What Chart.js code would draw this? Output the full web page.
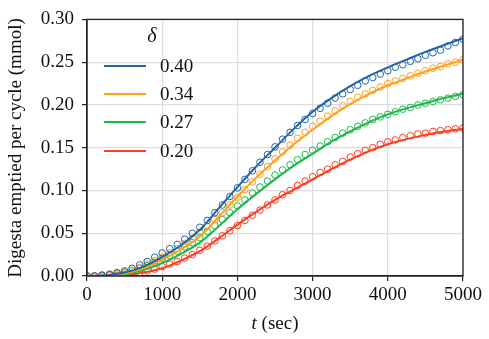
<!DOCTYPE html>
<html>
<head>
<meta charset="utf-8">
<script src="https://cdn.jsdelivr.net/npm/chart.js@4.4.0/dist/chart.umd.min.js"></script>
<style>
  html, body { margin: 0; padding: 0; background: #fff; }
  #wrap { width: 489px; height: 339px; }
</style>
</head>
<body>
<div id="wrap"><canvas id="c"></canvas></div>
<script>
// ---- data ----
const deltas  = ['0.40', '0.34', '0.27', '0.20'];
const colors  = ['#2265aa', '#ff9f1c', '#1cb84c', '#ff3d1f'];

// model curves (solid lines), every 250 s
const tLine = [0,250,500,750,1000,1250,1500,1750,2000,2250,2500,2750,3000,3250,3500,3750,4000,4250,4500,4750,5000];
const line040 = [0,0.001,0.004,0.011,0.022,0.036,0.054,0.079,0.104,0.128,0.150,0.172,0.192,0.208,0.222,0.234,0.244,0.253,0.262,0.270,0.278];
const line034 = [0,0.0005,0.003,0.009,0.019,0.031,0.046,0.069,0.093,0.115,0.135,0.154,0.171,0.187,0.201,0.213,0.223,0.231,0.239,0.246,0.253];
const line027 = [0,0.0004,0.002,0.007,0.015,0.026,0.039,0.058,0.078,0.096,0.113,0.129,0.143,0.157,0.169,0.180,0.189,0.196,0.202,0.208,0.213];
const line020 = [0,0.0002,0.001,0.004,0.009,0.018,0.029,0.044,0.060,0.075,0.089,0.101,0.113,0.125,0.136,0.146,0.154,0.160,0.165,0.169,0.172];

// measured points (open circles), every 100 s
const tPts = [0,100,200,300,400,500,600,700,800,900,1000,1100,1200,1300,1400,1500,1600,1700,1800,1900,
              2000,2100,2200,2300,2400,2500,2600,2700,2800,2900,3000,3100,3200,3300,3400,3500,3600,3700,3800,3900,
              4000,4100,4200,4300,4400,4500,4600,4700,4800,4900,5000];
const pts040 = [0,0,0.001,0.002,0.004,0.006,0.009,0.013,0.017,0.022,0.027,0.032,0.037,0.043,0.050,0.057,0.065,0.074,0.083,0.093,
                0.103,0.113,0.123,0.133,0.142,0.151,0.160,0.168,0.176,0.183,0.190,0.196,0.202,0.208,0.213,0.218,0.223,0.228,0.232,0.236,
                0.240,0.244,0.247,0.251,0.254,0.258,0.261,0.264,0.269,0.273,0.277];
const pts034 = [0,0,0.001,0.002,0.003,0.005,0.007,0.010,0.014,0.018,0.022,0.027,0.032,0.038,0.044,0.051,0.058,0.066,0.074,0.083,
                0.092,0.101,0.110,0.119,0.128,0.137,0.145,0.153,0.161,0.168,0.175,0.181,0.187,0.193,0.199,0.204,0.209,0.213,0.217,0.221,
                0.225,0.228,0.231,0.234,0.237,0.240,0.243,0.245,0.248,0.250,0.253];
const pts027 = [0,0,0.001,0.002,0.003,0.004,0.006,0.009,0.012,0.016,0.020,0.024,0.029,0.034,0.039,0.045,0.052,0.059,0.066,0.074,
                0.082,0.089,0.097,0.104,0.111,0.118,0.124,0.130,0.136,0.142,0.147,0.152,0.157,0.162,0.167,0.171,0.175,0.179,0.183,0.186,
                0.189,0.192,0.195,0.197,0.200,0.202,0.204,0.206,0.208,0.210,0.212];
const pts020 = [0,0,0,0.001,0.001,0.002,0.003,0.004,0.006,0.008,0.011,0.014,0.017,0.021,0.025,0.030,0.035,0.041,0.047,0.053,
                0.059,0.065,0.071,0.077,0.083,0.089,0.095,0.100,0.106,0.111,0.116,0.121,0.125,0.130,0.134,0.139,0.143,0.147,0.150,0.154,
                0.157,0.159,0.162,0.164,0.166,0.167,0.169,0.170,0.171,0.172,0.173];

const xTicks = [0,1000,2000,3000,4000,5000];
const yTicks = [0,0.05,0.10,0.15,0.20,0.25,0.30];

const lines = [line040, line034, line027, line020];
const pts   = [pts040, pts034, pts027, pts020];
const SERIF = '"Liberation Serif", "DejaVu Serif", serif';

const datasets = [];
pts.forEach((arr, i) => {
  datasets.push({
    label: 'pts ' + deltas[i],
    data: tPts.map((t, k) => ({ x: t, y: arr[k] })),
    showLine: false,
    pointRadius: 3.3,
    pointBorderWidth: 1,
    pointBorderColor: colors[i],
    pointBackgroundColor: 'rgba(0,0,0,0)',
    order: 2,
  });
});
lines.forEach((arr, i) => {
  datasets.push({
    label: deltas[i],
    data: tLine.map((t, k) => ({ x: t, y: arr[k] })),
    borderColor: colors[i],
    borderWidth: 2,
    pointRadius: 0,
    cubicInterpolationMode: 'monotone',
    fill: false,
    order: 1,
  });
});

// frame, axis titles and the in-plot legend
const decor = {
  id: 'decor',
  afterDraw(chart) {
    const { ctx, chartArea: a } = chart;
    ctx.save();
    ctx.strokeStyle = '#222';
    ctx.lineWidth = 1.3;
    ctx.strokeRect(a.left, a.top, a.right - a.left, a.bottom - a.top);

    ctx.fillStyle = '#111';
    ctx.textBaseline = 'middle';
    // x title
    ctx.font = 'italic 19px ' + SERIF;
    const tW = ctx.measureText('t').width;
    ctx.font = '19px ' + SERIF;
    const rest = ' (sec)';
    const rW = ctx.measureText(rest).width;
    const cx = (a.left + a.right) / 2;
    const x0 = cx - (tW + rW) / 2;
    ctx.textAlign = 'left';
    ctx.font = 'italic 19px ' + SERIF;
    ctx.fillText('t', x0, 324);
    ctx.font = '19px ' + SERIF;
    ctx.fillText(rest, x0 + tW, 324);

    // y title
    ctx.save();
    ctx.translate(16, 148);
    ctx.rotate(-Math.PI / 2);
    ctx.textAlign = 'center';
    ctx.font = '19px ' + SERIF;
    ctx.fillText('Digesta emptied per cycle (mmol)', 0, 0);
    ctx.restore();

    // legend
    ctx.textAlign = 'center';
    ctx.font = 'italic 20px ' + SERIF;
    ctx.fillText('\u03B4', 152, 37);
    const rows = [66, 94, 122, 151];
    ctx.textAlign = 'left';
    ctx.font = '19px ' + SERIF;
    deltas.forEach((d, i) => {
      ctx.strokeStyle = colors[i];
      ctx.lineWidth = 2;
      ctx.beginPath();
      ctx.moveTo(104, rows[i]);
      ctx.lineTo(146, rows[i]);
      ctx.stroke();
      ctx.fillStyle = '#111';
      ctx.fillText(d, 160, rows[i] + 1);
    });
    ctx.restore();
  }
};

new Chart(document.getElementById('c'), {
  type: 'line',
  data: { datasets },
  options: {
    responsive: true,
    maintainAspectRatio: false,
    animation: false,
    layout: { padding: { top: 13, right: 26, left: 0, bottom: 0 } },
    plugins: { legend: { display: false }, tooltip: { enabled: false } },
    scales: {
      x: {
        type: 'linear',
        min: 0, max: 5000,
        afterBuildTicks: s => { s.ticks = xTicks.map(v => ({ value: v })); },
        afterFit: s => { s.height = 63; },
        grid: { color: '#dddddd', lineWidth: 1.2, tickColor: '#222', tickLength: 5 },
        border: { color: '#222', width: 1.3 },
        ticks: { color: '#111', font: { family: SERIF, size: 19 }, padding: 3, maxRotation: 0,
                 callback: v => String(v) },
      },
      y: {
        min: 0, max: 0.30,
        afterBuildTicks: s => { s.ticks = yTicks.map(v => ({ value: v })); },
        afterFit: s => { s.width = 87; },
        grid: { color: '#dddddd', lineWidth: 1.2, tickColor: '#222', tickLength: 5 },
        border: { color: '#222', width: 1.3 },
        ticks: { color: '#111', font: { family: SERIF, size: 19 }, padding: 8,
                 callback: v => v.toFixed(2) },
      },
    },
  },
  plugins: [decor],
});
</script>
</body>
</html>
